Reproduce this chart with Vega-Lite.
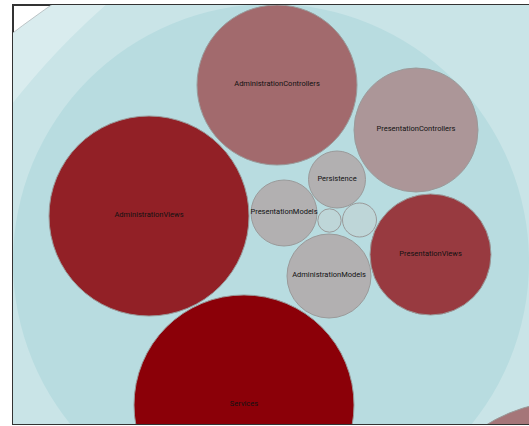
{
  "$schema": "https://vega.github.io/schema/vega-lite/v6.json",
  "width": 530,
  "height": 419,
  "autosize": "none",
  "padding": {"left": 13, "top": 5, "right": 0, "bottom": 2},
  "background": "white",
  "config": {"view": {"stroke": "#333333", "strokeWidth": 2}},
  "data": {
    "values": [
      {"name": "root", "kind": "group", "level": "root", "x": 665, "y": 904, "r": 1100, "metric": null},
      {"name": "application", "kind": "group", "level": "app", "x": 593, "y": 567, "r": 756, "metric": null},
      {"name": "web", "kind": "group", "level": "web", "x": 258, "y": 257, "r": 258, "metric": null},
      {"name": "", "kind": "leaf", "level": "leaf", "x": 557, "y": 555, "r": 159, "metric": 0.33},
      {"name": "AdministrationControllers", "kind": "leaf", "level": "leaf", "x": 264, "y": 80, "r": 80, "metric": 0.4},
      {"name": "PresentationControllers", "kind": "leaf", "level": "leaf", "x": 403, "y": 125, "r": 62, "metric": 0.15},
      {"name": "AdministrationViews", "kind": "leaf", "level": "leaf", "x": 136, "y": 211, "r": 100, "metric": 0.82},
      {"name": "Persistence", "kind": "leaf", "level": "leaf", "x": 324, "y": 174.5, "r": 28.5, "metric": 0},
      {"name": "PresentationModels", "kind": "leaf", "level": "leaf", "x": 271, "y": 208, "r": 33, "metric": 0},
      {"name": "", "kind": "leaf", "level": "leaf", "x": 316.5, "y": 215.5, "r": 11.7, "metric": null},
      {"name": "", "kind": "leaf", "level": "leaf", "x": 346.5, "y": 215, "r": 17, "metric": null},
      {"name": "PresentationViews", "kind": "leaf", "level": "leaf", "x": 417.5, "y": 249.5, "r": 60.5, "metric": 0.67},
      {"name": "AdministrationModels", "kind": "leaf", "level": "leaf", "x": 316, "y": 271, "r": 42, "metric": 0},
      {"name": "Services", "kind": "leaf", "level": "leaf", "x": 231, "y": 400, "r": 110, "metric": 1}
    ]
  },
  "encoding": {
    "x": {"field": "x", "type": "quantitative", "axis": null, "scale": {"domain": [0, 530], "zero": false, "nice": false}},
    "y": {"field": "y", "type": "quantitative", "axis": null, "scale": {"domain": [0, 419], "reverse": true, "zero": false, "nice": false}}
  },
  "layer": [
    {
      "transform": [{"filter": "datum.kind === 'group'"}],
      "mark": {"type": "circle", "clip": true, "opacity": 1, "stroke": "#b0b8ba", "strokeWidth": 0.8},
      "encoding": {
        "size": {"field": "r", "type": "quantitative", "legend": null, "scale": {"type": "pow", "exponent": 2, "domain": [0, 100], "range": [0, 40000]}},
        "color": {"field": "level", "type": "nominal", "legend": null, "scale": {"domain": ["root", "app", "web"], "range": ["#d9ecee", "#c9e4e7", "#b8dce0"]}},
        "strokeOpacity": {"condition": {"test": "datum.level === 'root'", "value": 1}, "value": 0}
      }
    },
    {
      "transform": [{"filter": "datum.kind === 'leaf' && isValid(datum.metric)"}],
      "mark": {"type": "circle", "clip": true, "opacity": 1, "stroke": "#9a9a9a", "strokeWidth": 1},
      "encoding": {
        "size": {"field": "r", "type": "quantitative", "legend": null, "scale": {"type": "pow", "exponent": 2, "domain": [0, 100], "range": [0, 40000]}},
        "color": {"field": "metric", "type": "quantitative", "legend": null, "scale": {"domain": [0, 1], "range": ["#b2b0b1", "#8b0008"], "interpolate": "rgb"}}
      }
    },
    {
      "transform": [{"filter": "datum.kind === 'leaf' && !isValid(datum.metric)"}],
      "mark": {"type": "circle", "clip": true, "opacity": 1, "stroke": "#9a9a9a", "strokeWidth": 1, "color": "#bed6d8"},
      "encoding": {
        "size": {"field": "r", "type": "quantitative", "legend": null, "scale": {"type": "pow", "exponent": 2, "domain": [0, 100], "range": [0, 40000]}}
      }
    },
    {
      "transform": [{"filter": "datum.kind === 'leaf' && datum.name !== ''"}],
      "mark": {"type": "text", "clip": true, "font": "Roboto", "fontSize": 7.5, "color": "#111111", "baseline": "middle", "align": "center", "dy": -1},
      "encoding": {"text": {"field": "name", "type": "nominal"}}
    }
  ],
  "resolve": {"scale": {"color": "independent"}}
}
